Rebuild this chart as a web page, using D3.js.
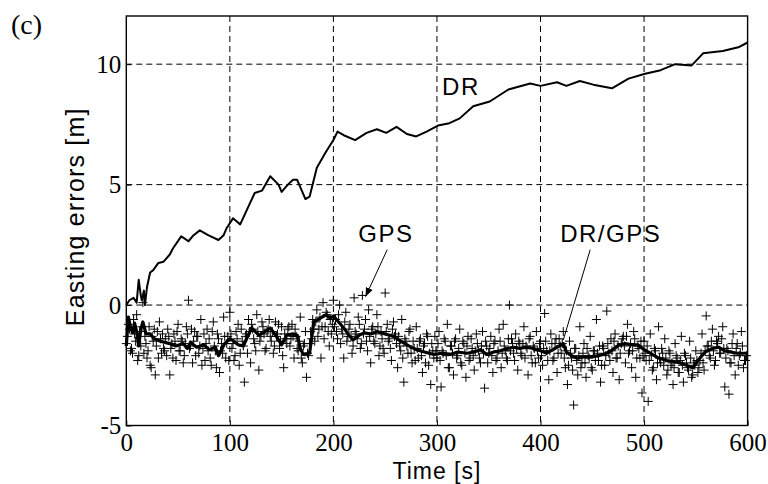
<!DOCTYPE html>
<html>
<head>
  <meta charset="utf-8">
  <script src="https://cdn.jsdelivr.net/npm/d3@7"></script>
  <style>
  body { margin: 0; background: #fff; }
  </style>
</head>
<body>
<svg id="chart" width="768" height="484"></svg>
<script>
// dead reckoning only
var drTime = [0,3,7,10,12,14,15,17,18,20,23,26,31,36,42,45,53,55,60,65,71,79,89,94,97,103,110,118,124,131,139,147,150,156,161,165,170,173,177,184,192,200,204,210,221,232,242,251,261,271,280,290,301,312,322,335,351,369,390,400,416,425,438,451,469,485,501,516,530,546,557,576,591,600];
var drErr = [0,0.2,0.3,0.1,1.05,0.4,0.2,0.6,0,0.75,1.35,1.45,1.75,1.8,2.1,2.35,2.85,2.8,2.65,2.9,3.1,2.9,2.7,2.9,3.2,3.6,3.35,4.1,4.65,4.75,5.35,5.0,4.7,5.0,5.2,5.2,4.7,4.4,4.5,5.7,6.3,6.85,7.2,7.05,6.85,7.15,7.3,7.15,7.4,7.1,7.0,7.2,7.45,7.55,7.75,8.25,8.45,8.95,9.2,9.1,9.25,9.1,9.3,9.15,9.0,9.4,9.6,9.75,10.0,9.95,10.45,10.55,10.7,10.9];

// integrated DR/GPS
var fusedTime = [0,2,4,6,8,10,12,14,16,19,23,27,33,42,48,55,59,62,68,75,80,86,89,95,100,104,108,113,121,128,134,139,145,150,155,160,165,168,171,177,181,187,193,197,200,205,210,215,219,225,230,236,242,250,258,265,271,280,288,297,305,313,320,329,336,342,348,355,361,368,374,380,386,393,400,406,414,422,425,430,435,442,448,456,464,470,476,482,488,494,500,506,514,522,529,535,541,547,553,559,566,572,578,583,590,600];
var fusedErr = [-1.7,-0.5,-0.9,-1.15,-0.75,-1.1,-1.7,-1.0,-0.7,-1.2,-1.2,-1.4,-1.5,-1.6,-1.7,-1.6,-1.8,-1.55,-1.75,-1.65,-1.85,-1.75,-2.1,-1.6,-1.4,-1.5,-1.65,-1.7,-0.95,-1.25,-1.1,-0.95,-1.3,-1.65,-1.25,-1.2,-1.25,-1.8,-2.05,-2.0,-0.7,-0.55,-0.4,-0.55,-0.45,-0.7,-0.95,-1.25,-1.45,-1.25,-1.15,-1.2,-1.1,-1.2,-1.3,-1.5,-1.65,-1.85,-1.95,-2.05,-2.0,-2.05,-1.95,-2.0,-1.95,-1.85,-2.05,-1.95,-1.9,-1.8,-1.75,-1.8,-1.75,-1.8,-1.9,-2.0,-1.8,-1.6,-1.95,-2.1,-2.2,-2.15,-2.15,-2.1,-2.0,-1.85,-1.65,-1.6,-1.65,-1.65,-1.85,-2.0,-2.2,-2.3,-2.35,-2.4,-2.5,-2.6,-2.25,-1.95,-1.8,-1.75,-1.9,-1.95,-2.0,-2.0];

// GPS fixes at even seconds (0,2,...,598)
var gpsEven = [
  -1.6,-0.8,-1.9,-2.0,-1.2,-0.4,-2.1,-1.7,0.1,-1.3,
  -2.2,-0.9,-2.6,-1.5,-2.9,-1.1,-0.7,-2.0,-1.8,-1.4,
  -1.0,-2.9,-1.6,-1.2,-2.3,-0.8,-1.9,-1.5,-2.1,-0.9,
  0.2,-1.7,-2.4,-1.1,-1.3,-2.0,-0.6,-1.8,-2.3,-1.0,
  -1.4,-2.5,-0.7,-1.9,-1.2,-2.8,-1.6,-0.5,-2.2,-1.3,
  -0.3,-1.8,-2.3,-1.1,-0.8,-2.0,-1.5,-3.2,-1.2,-0.6,
  -2.4,-1.0,-1.6,-0.4,-2.7,-1.3,-0.9,-1.9,-1.1,-0.6,
  -1.5,-2.0,-0.7,-1.2,-1.8,-0.9,-2.6,-1.4,-1.0,-1.7,
  -0.8,-2.2,-1.3,-1.9,-0.5,-2.4,-1.6,-3.0,-2.1,-1.1,
  -0.6,-1.5,-0.2,-1.0,-2.2,0.1,-0.9,-0.4,-1.7,-1.2,
  0.2,-0.6,-1.4,0.0,-1.0,-2.2,-0.3,-1.3,-0.8,-2.0,
  0.3,-1.2,-0.5,-1.8,0.4,-1.0,-1.5,-0.2,-2.4,-0.9,
  -1.6,-0.4,-2.1,-1.1,-1.8,0.5,-0.8,-1.4,-2.3,-0.7,
  -1.2,-2.6,-1.7,-0.6,-3.2,-1.5,-2.0,-1.0,-2.4,-1.8,
  -0.9,-2.2,-1.4,-2.8,-1.6,-1.2,-2.5,-3.3,-1.9,-1.3,
  -2.2,-1.1,-3.4,-2.0,-1.5,-0.8,-2.6,-1.7,-2.9,-1.4,
  -2.1,-1.0,-2.5,-1.6,-3.0,-1.3,-2.2,-1.8,-2.7,-1.2,
  -1.9,-2.4,-1.1,-3.45,-1.7,-2.0,-1.3,-2.8,-1.5,-2.2,
  -1.0,-2.6,-0.8,-1.9,-2.3,0.0,-1.4,-2.0,-1.2,-2.7,
  -1.6,-2.1,-0.9,-1.7,-2.9,-1.3,-2.4,-1.8,-1.1,-2.2,
  -1.5,-2.5,-0.35,-1.9,-3.1,-1.2,-2.3,-1.6,-2.8,-1.4,
  -2.0,-1.1,-2.6,-3.3,-1.5,-2.2,-4.15,-1.8,-2.9,-0.9,
  -2.4,-1.6,-3.0,-2.1,-1.3,-2.7,-1.9,-0.6,-2.3,-3.2,
  -1.7,-2.5,-0.25,-2.0,-1.4,-2.8,-1.2,-2.2,-3.1,-1.6,
  -1.3,-2.4,-0.8,-1.9,-2.6,-1.1,-3.0,-1.7,-2.2,-3.65,
  -1.5,-2.3,-4.0,-1.2,-2.7,-1.8,-3.1,-0.9,-2.4,-2.0,
  -1.4,-2.9,-1.9,-2.5,-3.3,-1.6,-2.2,-2.8,-1.3,-3.2,
  -2.1,-2.6,-1.5,-3.0,-2.4,-1.9,-2.8,-2.3,-1.2,-2.7,
  -0.45,-1.7,-2.2,-1.0,-2.5,-1.5,-1.3,-2.0,-0.9,-3.4,
  -1.8,-3.7,-2.4,-1.2,-2.9,-1.6,-2.1,-1.1,-2.6,-2.3
];

// GPS fixes at odd seconds (1,3,...,599)
var gpsOdd = [
  -1.3,-1.0,-1.8,-0.6,-1.5,-2.3,-1.1,-0.9,-2.0,-1.6,
  -1.9,-2.5,-1.3,-1.0,-1.7,-2.2,-1.4,-1.2,-1.9,-2.1,
  -1.3,-1.8,-2.2,-1.5,-1.1,-1.9,-1.4,-2.4,-1.6,-1.2,
  -1.8,-1.0,-1.5,-2.1,-1.3,-1.7,-2.5,-1.2,-1.6,-1.9,
  -2.2,-1.1,-1.7,-2.6,-1.4,-1.9,-2.0,-1.3,-1.6,-2.3,
  -1.2,-1.6,-2.1,-1.4,-2.5,-1.0,-1.7,-1.3,-2.0,-1.1,
  -0.8,-1.4,-1.9,-1.1,-1.5,-0.7,-1.2,-1.8,-1.0,-1.3,
  -1.1,-1.7,-1.3,-0.8,-1.5,-2.1,-1.2,-1.6,-0.9,-1.4,
  -1.3,-1.0,-1.8,-1.5,-2.2,-1.7,-1.1,-2.0,-1.6,-1.4,
  -1.0,-0.7,-1.3,-0.5,-0.9,-1.4,-0.3,-1.1,-0.6,-0.8,
  -0.9,-1.1,-0.4,-1.6,-1.2,-0.7,-1.5,-1.0,-1.3,-1.7,
  -1.1,-1.4,-0.8,-1.6,-1.2,-0.6,-1.9,-1.3,-1.0,-1.5,
  -1.2,-0.9,-1.7,-1.4,-2.0,-1.1,-1.5,-1.8,-1.0,-1.3,
  -1.6,-1.3,-1.9,-2.2,-1.4,-1.7,-1.1,-2.0,-1.5,-2.3,
  -1.8,-1.5,-2.1,-1.7,-2.4,-1.3,-2.0,-1.6,-2.2,-1.9,
  -1.6,-2.3,-1.9,-1.4,-2.1,-2.6,-1.7,-2.0,-1.5,-2.2,
  -1.8,-2.4,-1.5,-2.0,-1.7,-2.3,-1.4,-2.1,-1.9,-1.6,
  -2.2,-1.7,-2.0,-1.5,-2.4,-1.8,-2.1,-1.6,-2.3,-1.9,
  -1.5,-2.0,-1.7,-2.2,-1.4,-1.9,-1.6,-2.3,-1.8,-1.5,
  -2.0,-1.6,-2.2,-1.8,-1.4,-2.1,-1.7,-2.4,-1.9,-1.6,
  -2.1,-1.8,-1.5,-2.3,-1.9,-1.6,-2.2,-1.4,-2.0,-1.7,
  -1.6,-2.2,-1.9,-2.5,-2.0,-2.7,-1.8,-2.3,-2.1,-2.6,
  -2.0,-2.4,-1.8,-2.2,-2.6,-1.9,-2.3,-2.0,-1.7,-2.5,
  -1.8,-2.1,-1.6,-2.3,-1.9,-1.5,-2.2,-1.7,-2.0,-1.4,
  -1.7,-1.3,-2.0,-1.6,-1.9,-1.4,-2.2,-1.8,-1.5,-2.1,
  -2.0,-1.7,-2.3,-2.1,-2.6,-1.9,-2.4,-2.2,-1.8,-2.5,
  -2.2,-2.7,-2.0,-2.4,-2.6,-2.1,-2.8,-2.3,-2.5,-2.0,
  -2.4,-2.7,-2.2,-2.9,-2.5,-2.3,-2.6,-2.0,-2.4,-1.9,
  -1.7,-2.1,-1.5,-1.9,-2.3,-1.6,-2.0,-1.4,-1.8,-2.2,
  -1.9,-2.4,-1.6,-2.1,-1.8,-2.5,-2.0,-1.7,-2.3,-2.1
];

var xTicks = [0, 100, 200, 300, 400, 500, 600];
var yTicks = [-5, 0, 5, 10];

var serif = '"Liberation Serif", "Times New Roman", serif';
var sans = '"Liberation Sans", Arial, sans-serif';

var margin = {top: 16, right: 20.4, bottom: 58.5, left: 126.3},
    width = 768 - margin.left - margin.right,
    height = 484 - margin.top - margin.bottom;

var svg = d3.select("#chart");
var g = svg.append("g")
  .attr("transform", "translate(" + margin.left + "," + margin.top + ")");

var x = d3.scaleLinear().domain([0, 600]).range([0, width]);
var y = d3.scaleLinear().domain([-5, 12]).range([height, 0]);

// dashed grid
g.append("g")
  .selectAll("line").data(xTicks.slice(1, -1)).enter().append("line")
  .attr("x1", function(d) { return x(d); }).attr("x2", function(d) { return x(d); })
  .attr("y1", 0).attr("y2", height)
  .attr("stroke", "#000").attr("stroke-width", 1).attr("stroke-dasharray", "6,4");
g.append("g")
  .selectAll("line").data(yTicks.slice(1)).enter().append("line")
  .attr("y1", function(d) { return y(d); }).attr("y2", function(d) { return y(d); })
  .attr("x1", 0).attr("x2", width)
  .attr("stroke", "#000").attr("stroke-width", 1).attr("stroke-dasharray", "6,4");

// axes (inward ticks, MATLAB style)
var fmt = function(d) { return String(d); };
var xAxis = g.append("g")
  .attr("transform", "translate(0," + height + ")")
  .call(d3.axisBottom(x).tickValues(xTicks).tickFormat(fmt).tickSize(-5).tickPadding(8));
var yAxis = g.append("g")
  .call(d3.axisLeft(y).tickValues(yTicks).tickFormat(fmt).tickSize(-5).tickPadding(5));
[xAxis, yAxis].forEach(function(a) {
  a.attr("font-family", serif).attr("font-size", 25);
  a.select(".domain").remove();
  a.selectAll("line").attr("stroke", "#000");
  a.selectAll("text").attr("fill", "#000");
});

// box
g.append("rect")
  .attr("x", 0).attr("y", 0).attr("width", width).attr("height", height)
  .attr("fill", "none").attr("stroke", "#000").attr("stroke-width", 1.4);

var plot = g.append("g");

// GPS markers
var gps = gpsEven.map(function(v, i) { return [i * 2, v]; })
  .concat(gpsOdd.map(function(v, i) { return [i * 2 + 1, v]; }));

plot.selectAll(".gps")
  .data(gps).enter().append("path")
  .attr("class", "gps")
  .attr("transform", function(d) { return "translate(" + x(d[0]) + "," + y(d[1]) + ")"; })
  .attr("d", "M-4.5,0H4.5M0,-4.5V4.5")
  .attr("stroke", "#000").attr("stroke-width", 1).attr("fill", "none");

var line = d3.line()
  .x(function(d) { return x(d[0]); })
  .y(function(d) { return y(d[1]); });

plot.append("path")
  .datum(d3.zip(drTime, drErr))
  .attr("d", line)
  .attr("fill", "none").attr("stroke", "#000").attr("stroke-width", 2)
  .attr("stroke-linejoin", "round");

plot.append("path")
  .datum(d3.zip(fusedTime, fusedErr))
  .attr("d", line)
  .attr("fill", "none").attr("stroke", "#000").attr("stroke-width", 3.2)
  .attr("stroke-linejoin", "round");

// annotations
svg.append("defs").append("marker")
  .attr("id", "arr").attr("viewBox", "0 0 10 10").attr("refX", 10).attr("refY", 5)
  .attr("markerWidth", 9).attr("markerHeight", 9).attr("orient", "auto")
  .attr("markerUnits", "userSpaceOnUse")
  .append("path").attr("d", "M0,1L10,5L0,9Z").attr("fill", "#000");

g.append("line")
  .attr("x1", x(252)).attr("y1", y(2.3)).attr("x2", x(231)).attr("y2", y(0.35))
  .attr("stroke", "#000").attr("stroke-width", 1).attr("marker-end", "url(#arr)");
g.append("line")
  .attr("x1", x(448)).attr("y1", y(2.3)).attr("x2", x(422)).attr("y2", y(-1.45))
  .attr("stroke", "#000").attr("stroke-width", 1);

function label(txt, t, v) {
  g.append("text").attr("x", x(t)).attr("y", y(v))
    .attr("font-family", sans).attr("font-size", 24).attr("letter-spacing", 1.5)
    .attr("fill", "#000").text(txt);
}
label("DR", 305, 8.7);
label("GPS", 224, 2.6);
label("DR/GPS", 419, 2.6);

// axis titles
svg.append("text")
  .attr("x", margin.left + width / 2).attr("y", 479)
  .attr("font-family", sans).attr("font-size", 23).attr("letter-spacing", 1)
  .attr("text-anchor", "middle").text("Time [s]");
svg.append("text")
  .attr("transform", "translate(84," + (margin.top + height / 2 - 4) + ") rotate(-90)")
  .attr("font-family", sans).attr("font-size", 25).attr("letter-spacing", 1.2)
  .attr("text-anchor", "middle").text("Easting errors [m]");

svg.append("text")
  .attr("x", 11).attr("y", 34)
  .attr("font-family", serif).attr("font-size", 28)
  .text("(c)");
</script>
</body>
</html>
